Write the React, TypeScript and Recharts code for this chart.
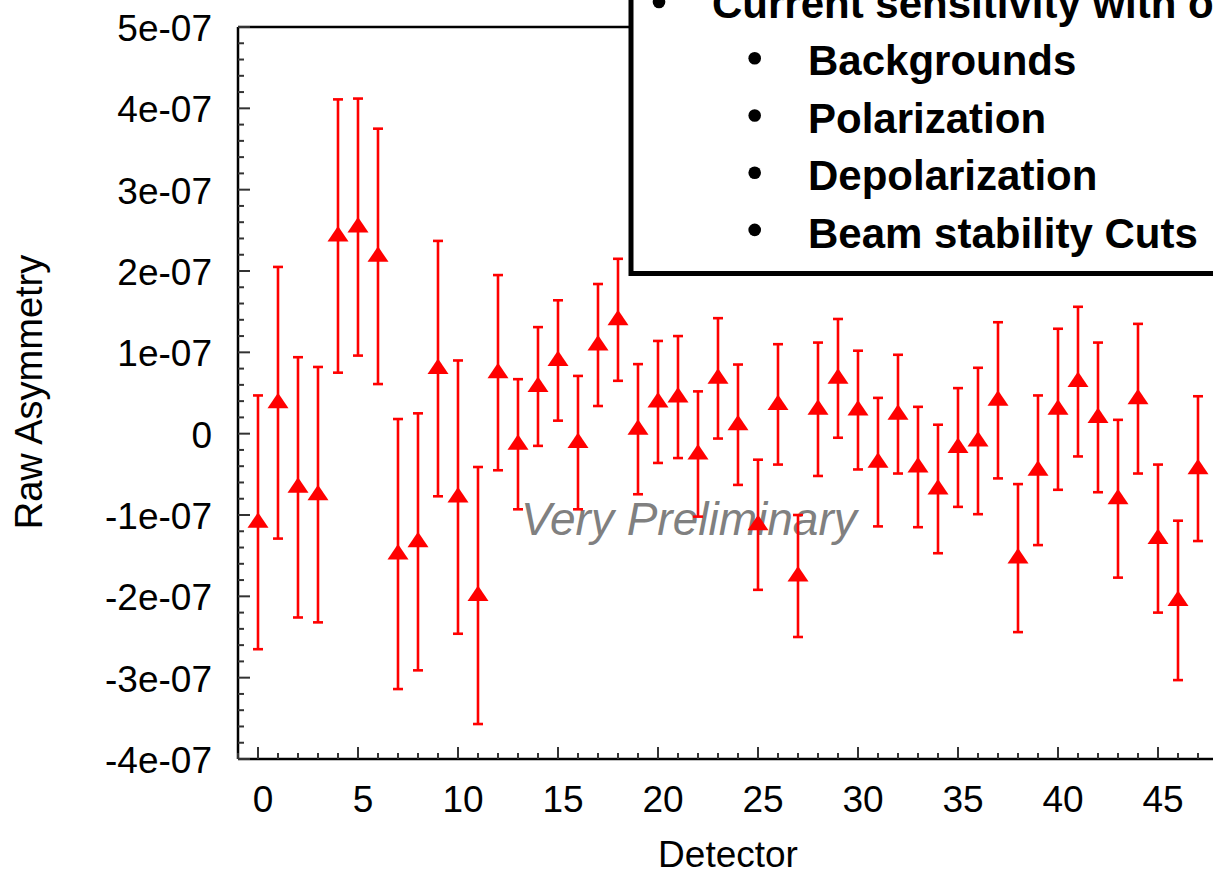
import { ScatterChart, Scatter, XAxis, YAxis, ErrorBar, Label } from 'recharts';

// detector index, raw asymmetry and its error (both in units of 1e-7)
const detectors = [
  0, 1, 2, 3, 4, 5, 6, 7, 8, 9, 10, 11, 12, 13, 14, 15, 16, 17, 18, 19, 20, 21, 22, 23,
  24, 25, 26, 27, 28, 29, 30, 31, 32, 33, 34, 35, 36, 37, 38, 39, 40, 41, 42, 43, 44, 45, 46, 47,
];
const asymmetry = [
  -1.09, 0.38, -0.66, -0.75, 2.43, 2.54, 2.18, -1.48, -1.33, 0.8, -0.78, -1.99, 0.75, -0.13,
  0.58, 0.9, -0.11, 1.09, 1.4, 0.055, 0.39, 0.45, -0.25, 0.68, 0.11, -1.12, 0.36, -1.75, 0.3,
  0.68, 0.29, -0.35, 0.24, -0.41, -0.68, -0.17, -0.09, 0.41, -1.53, -0.45, 0.3, 0.64, 0.2,
  -0.8, 0.43, -1.29, -2.05, -0.43,
];
const asymErrors = [
  1.56, 1.67, 1.6, 1.57, 1.68, 1.58, 1.57, 1.66, 1.58, 1.57, 1.68, 1.58, 1.2, 0.8, 0.73, 0.74,
  0.82, 0.75, 0.75, 0.8, 0.75, 0.75, 0.77, 0.74, 0.74, 0.8, 0.74, 0.75, 0.82, 0.73, 0.73, 0.79,
  0.73, 0.74, 0.79, 0.73, 0.9, 0.96, 0.91, 0.92, 0.99, 0.92, 0.92, 0.97, 0.92, 0.91, 0.98, 0.89,
];
const UNIT = 1e-7;

const xMajorTicks = [0, 5, 10, 15, 20, 25, 30, 35, 40, 45];
const xTickLabels = ['0', '5', '10', '15', '20', '25', '30', '35', '40', '45'];
const yMajorTicks = [-4, -3, -2, -1, 0, 1, 2, 3, 4, 5];
const yTickLabels = ['-4e-07', '-3e-07', '-2e-07', '-1e-07', '0', '1e-07', '2e-07', '3e-07', '4e-07', '5e-07'];

const boxTitle = 'Current sensitivity with o';
const boxItems = ['Backgrounds', 'Polarization', 'Depolarization', 'Beam stability Cuts'];

const data = detectors.map((d, i) => ({
  det: d,
  asym: asymmetry[i] * UNIT,
  err: asymErrors[i] * UNIT,
}));

// minor ticks every detector / every 2e-8
const xTicks = Array.from({ length: 50 }, (_, i) => i - 1);
const yTicks = Array.from({ length: 46 }, (_, i) => ((i * 2 - 40) / 10) * UNIT);

const FONT = '"Liberation Sans", Arial, sans-serif';
const TICK_COLOR = '#333';

const xLabelFor = (v: number) => {
  const k = xMajorTicks.indexOf(v);
  return k >= 0 ? xTickLabels[k] : null;
};
const yLabelFor = (v: number) => {
  const u = Math.round(v / UNIT * 10) / 10;
  const k = yMajorTicks.indexOf(u);
  return k >= 0 ? yTickLabels[k] : null;
};

const BottomTick = ({ x, y, payload }: any) => {
  const label = xLabelFor(payload.value);
  return (
    <g>
      <line x1={x} y1={y} x2={x} y2={y - (label ? 12 : 6)} stroke={TICK_COLOR} strokeWidth={2} />
      {label && (
        <text x={x + 5} y={y + 53} textAnchor="middle" fontSize={37} fontFamily={FONT} fill="#000">
          {label}
        </text>
      )}
    </g>
  );
};

const TopTick = ({ x, y, payload }: any) => {
  const label = xLabelFor(payload.value);
  return <line x1={x} y1={y} x2={x} y2={y + (label ? 12 : 6)} stroke={TICK_COLOR} strokeWidth={2} />;
};

const LeftTick = ({ x, y, payload }: any) => {
  const label = yLabelFor(payload.value);
  return (
    <g>
      <line x1={x} y1={y} x2={x + (label ? 12 : 6)} y2={y} stroke={TICK_COLOR} strokeWidth={2} />
      {label && (
        <text x={x - 26} y={y + 14} textAnchor="end" fontSize={37} fontFamily={FONT} fill="#000">
          {label}
        </text>
      )}
    </g>
  );
};

const RightTick = ({ x, y, payload }: any) => {
  const label = yLabelFor(payload.value);
  return <line x1={x} y1={y} x2={x - (label ? 12 : 6)} y2={y} stroke={TICK_COLOR} strokeWidth={2} />;
};

const Triangle = ({ cx, cy }: any) => (
  <polygon points={`${cx},${cy - 10} ${cx - 10.5},${cy + 5.5} ${cx + 10.5},${cy + 5.5}`} fill="#ff0000" />
);

export default function App() {
  return (
    <div style={{ position: 'fixed', left: 0, top: 0, width: 1213, height: 875, overflow: 'hidden', background: '#fff' }}>
      <svg width={1213} height={875} style={{ position: 'absolute', left: 0, top: 0 }}>
        <text x={521} y={535} fontSize={46} fontStyle="italic" fontFamily={FONT} fill="#808080">
          Very Preliminary
        </text>
      </svg>
      <ScatterChart width={1240} height={875} margin={{ top: 0, right: 0, bottom: 0, left: 0 }}>
        <XAxis
          type="number"
          dataKey="det"
          domain={[-1, 48]}
          ticks={xTicks}
          interval={0}
          height={116}
          tickSize={0}
          tickMargin={0}
          tickLine={false}
          tick={<BottomTick />}
          axisLine={{ stroke: '#000', strokeWidth: 2.5 }}
        >
          <Label
            content={({ viewBox }: any) => (
              <text
                x={viewBox.x + viewBox.width / 2}
                y={viewBox.y + 108}
                textAnchor="middle"
                fontSize={37}
                fontFamily={FONT}
                fill="#000"
              >
                Detector
              </text>
            )}
          />
        </XAxis>
        <XAxis
          xAxisId="top"
          orientation="top"
          type="number"
          dataKey="det"
          domain={[-1, 48]}
          ticks={xTicks}
          interval={0}
          height={27}
          tickSize={0}
          tickMargin={0}
          tickLine={false}
          tick={<TopTick />}
          axisLine={{ stroke: '#000', strokeWidth: 2.5 }}
        />
        <YAxis
          type="number"
          dataKey="asym"
          domain={[-4 * UNIT, 5 * UNIT]}
          ticks={yTicks}
          interval={0}
          width={238}
          tickSize={0}
          tickMargin={0}
          tickLine={false}
          tick={<LeftTick />}
          axisLine={{ stroke: '#000', strokeWidth: 2.5 }}
        >
          <Label
            content={({ viewBox }: any) => {
              const cx = viewBox.x + 42;
              const cy = viewBox.y + viewBox.height / 2 - 1;
              return (
                <text
                  x={cx}
                  y={cy}
                  transform={`rotate(-90, ${cx}, ${cy})`}
                  textAnchor="middle"
                  fontSize={38}
                  fontFamily={FONT}
                  fill="#000"
                >
                  Raw Asymmetry
                </text>
              );
            }}
          />
        </YAxis>
        <YAxis
          yAxisId="right"
          orientation="right"
          type="number"
          dataKey="asym"
          domain={[-4 * UNIT, 5 * UNIT]}
          ticks={yTicks}
          interval={0}
          width={22}
          tickSize={0}
          tickMargin={0}
          tickLine={false}
          tick={<RightTick />}
          axisLine={{ stroke: '#000', strokeWidth: 2.5 }}
        />
        <Scatter data={data} shape={(p: any) => <Triangle {...p} />} isAnimationActive={false}>
          <ErrorBar dataKey="err" direction="y" width={5} stroke="#ff0000" strokeWidth={2.6} />
        </Scatter>
      </ScatterChart>
      <svg width={1213} height={875} style={{ position: 'absolute', left: 0, top: 0 }}>
        <rect x={631} y={-20} width={700} height={293.5} fill="#fff" stroke="#000" strokeWidth={5} />
        <circle cx={659} cy={2} r={6.3} fill="#000" />
        <text x={712} y={18} fontSize={42} fontWeight="bold" fontFamily={FONT} fill="#000">
          {boxTitle}
        </text>
        {boxItems.map((t, i) => (
          <g key={t}>
            <circle cx={754.7} cy={58.3 + i * 57.2} r={6.3} fill="#000" />
            <text x={808} y={75 + i * 57.7} fontSize={42} fontWeight="bold" fontFamily={FONT} fill="#000">
              {t}
            </text>
          </g>
        ))}
      </svg>
    </div>
  );
}
